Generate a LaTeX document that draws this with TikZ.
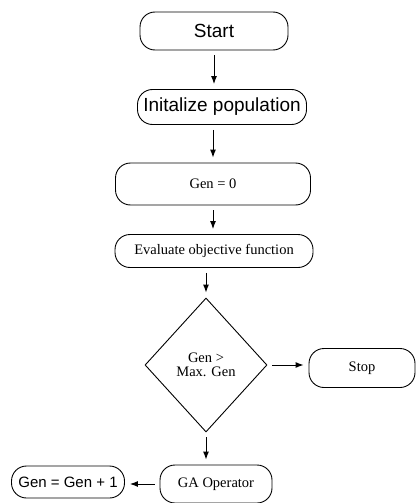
\documentclass[tikz,border=0pt]{standalone}
\usepackage{fontspec}
\setmainfont{Liberation Serif}
\newfontfamily\flowsans{Liberation Sans}
\usetikzlibrary{shapes,arrows,arrows.meta,positioning}

\begin{document}
\begin{tikzpicture}[x=1pt, y=1pt, >={Latex[length=8pt,width=6pt]}, node distance=40pt,
	every node/.style={font=\fontsize{14.5}{14}\selectfont},
	term/.style={draw, rectangle, rounded corners=15pt, line width=0.9pt, inner sep=2pt, align=center},
	sansterm/.style={term, font=\flowsans\fontsize{19}{22}\selectfont},
	flow/.style={->, line width=1pt, shorten <=5pt, shorten >=5pt}]
	\useasboundingbox (0,0) rectangle (417,-503);
	\node[sansterm, minimum width=148pt, minimum height=38pt] (start) at (214,-31) {Start};
	\node[sansterm, minimum width=169pt, minimum height=35pt] (init) [below of=start, yshift=-36pt, xshift=8pt] {Initalize population};
	\node[term, minimum width=195pt, minimum height=42pt] (gen0) [below of=init, yshift=-37pt, xshift=-9pt] {Gen = 0};
	\node[term, minimum width=198pt, minimum height=33pt] (eval) [below of=gen0, yshift=-27pt, xshift=1pt] {Evaluate objective function};
	\node[draw, diamond, line width=0.9pt, inner sep=0pt, minimum width=122pt, minimum height=134pt, align=center, font=\fontsize{14.5}{14}\selectfont] (check) [below of=eval, yshift=-74pt, xshift=-8pt] {Gen >\\Max. Gen};
	\node[term, minimum width=106pt, minimum height=39pt] (stop) [right of=check, xshift=116pt, yshift=-3pt] {Stop};
	\node[term, minimum width=112pt, minimum height=38pt] (gaop) [below of=check, yshift=-79pt, xshift=10pt] {GA Operator};
	\node[term, minimum width=113pt, minimum height=32pt, font=\flowsans\fontsize{15}{18}\selectfont] (incgen) [left of=gaop, xshift=-108pt, yshift=2pt] {Gen = Gen + 1};
	\draw[flow] (start.south) -- (start.south |- init.north);
	\draw[flow] (init.south -| gen0.north) -- (gen0.north);
	\draw[flow] (gen0.south) -- (gen0.south |- eval.north);
	\draw[flow] (eval.south -| check.north) -- (check.north);
	\draw[flow] (check.east) -- (check.east -| stop.west);
	\draw[flow] (check.south) -- (check.south |- gaop.north);
	\draw[flow] (gaop.west) -- (gaop.west -| incgen.east);
\end{tikzpicture}
\end{document}
